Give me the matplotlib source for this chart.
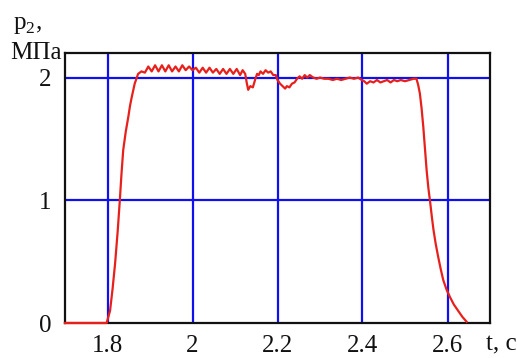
"""Pressure p2 vs time - recreated chart."""

import matplotlib
matplotlib.use("Agg")
import matplotlib.pyplot as plt

# rise from zero to plateau
t_rise = [1.700, 1.798, 1.806, 1.812, 1.818, 1.824, 1.829, 1.833, 1.837, 1.843,
          1.849, 1.853, 1.857, 1.864, 1.872, 1.880]
p_rise = [0.00, 0.00, 0.10, 0.28, 0.49, 0.75, 1.00, 1.22, 1.41, 1.56,
          1.68, 1.77, 1.84, 1.95, 2.03, 2.05]

# plateau with ripple
t_flat = [1.888, 1.896, 1.904, 1.912, 1.920, 1.928, 1.936, 1.944, 1.952, 1.960,
          1.968, 1.976, 1.984, 1.992, 2.000, 2.008, 2.016, 2.024, 2.032, 2.040,
          2.048, 2.056, 2.064, 2.072, 2.080, 2.088, 2.096, 2.104, 2.112, 2.118,
          2.124, 2.128, 2.131, 2.136, 2.142, 2.148, 2.152, 2.156, 2.160, 2.166,
          2.172, 2.178, 2.184, 2.190, 2.196, 2.200, 2.206, 2.212, 2.218, 2.222,
          2.228, 2.234, 2.240, 2.246, 2.252, 2.258, 2.264, 2.270, 2.276, 2.284,
          2.292, 2.300, 2.310, 2.320, 2.330, 2.340, 2.350, 2.360, 2.370, 2.380,
          2.390, 2.398, 2.404, 2.410, 2.418, 2.426, 2.434, 2.442, 2.450, 2.458,
          2.466, 2.474, 2.482, 2.490, 2.500, 2.510, 2.520, 2.527]
p_flat = [2.04, 2.09, 2.05, 2.10, 2.05, 2.10, 2.05, 2.10, 2.05, 2.09,
          2.05, 2.10, 2.06, 2.09, 2.06, 2.08, 2.04, 2.08, 2.04, 2.08,
          2.04, 2.07, 2.03, 2.07, 2.03, 2.07, 2.03, 2.07, 2.02, 2.06,
          2.03, 1.95, 1.90, 1.93, 1.92, 1.99, 2.03, 2.02, 2.05, 2.03,
          2.06, 2.04, 2.05, 2.02, 2.02, 1.98, 1.95, 1.93, 1.91, 1.93,
          1.92, 1.95, 1.96, 1.99, 2.01, 1.99, 2.02, 2.00, 2.02, 2.00,
          1.99, 2.00, 1.99, 1.99, 1.98, 1.99, 1.98, 1.99, 2.00, 1.99,
          2.00, 1.98, 1.97, 1.95, 1.97, 1.96, 1.98, 1.96, 1.97, 1.98,
          1.96, 1.98, 1.97, 1.98, 1.97, 1.98, 1.99, 1.99]

# fall back to zero
t_fall = [2.531, 2.535, 2.539, 2.543, 2.547, 2.551, 2.555, 2.559, 2.563, 2.567,
          2.572, 2.578, 2.584, 2.590, 2.598, 2.606, 2.615, 2.625, 2.635, 2.645]
p_fall = [1.94, 1.87, 1.75, 1.60, 1.42, 1.24, 1.10, 0.99, 0.87, 0.76,
          0.65, 0.54, 0.44, 0.35, 0.27, 0.21, 0.15, 0.10, 0.05, 0.01]

x_ticks = [1.8, 2.0, 2.2, 2.4, 2.6]
x_labels = ["1.8", "2", "2.2", "2.4", "2.6"]
y_ticks = [0, 1, 2]
y_labels = ["0", "1", "2"]

plt.rcParams["font.family"] = ["Liberation Serif", "DejaVu Serif"]
plt.rcParams["mathtext.fontset"] = "custom"
plt.rcParams["mathtext.rm"] = "Liberation Serif"

t = t_rise + t_flat + t_fall
p = p_rise + p_flat + p_fall

fig = plt.figure(figsize=(5.17, 3.58), dpi=100)
ax = fig.add_axes([65 / 517, 35 / 358, 425 / 517, 270 / 358])

for xv in x_ticks:
    ax.axvline(xv, color="#1010ee", lw=1.6, zorder=1)
for yv in y_ticks[1:]:
    ax.axhline(yv, color="#1010ee", lw=1.6, zorder=1)

ax.plot(t, p, color="#e8201c", lw=1.6, zorder=3, clip_on=False)

ax.set_xlim(1.7, 2.7)
ax.set_ylim(0, 2.2)
ax.set_xticks(x_ticks)
ax.set_xticklabels(x_labels)
ax.set_yticks(y_ticks)
ax.set_yticklabels(y_labels)
ax.tick_params(length=0, labelsize=18, colors="#111111")
ax.tick_params(axis="x", pad=9)
ax.tick_params(axis="y", pad=10)
for s in ax.spines.values():
    s.set_linewidth(1.6)
    s.set_color("#111111")
    s.set_zorder(2)

fig.text(13 / 517, 1 - 29 / 358, r"p$_\mathregular{2}$,", fontsize=18,
         ha="left", va="baseline", color="#111111")
fig.text(62 / 517, 1 - 59 / 358, "МПа", fontsize=18,
         ha="right", va="baseline", color="#111111")
fig.text(486 / 517, 8 / 358, "t, c", fontsize=18,
         ha="left", va="baseline", color="#111111")

fig.savefig("out.png", dpi=100)
